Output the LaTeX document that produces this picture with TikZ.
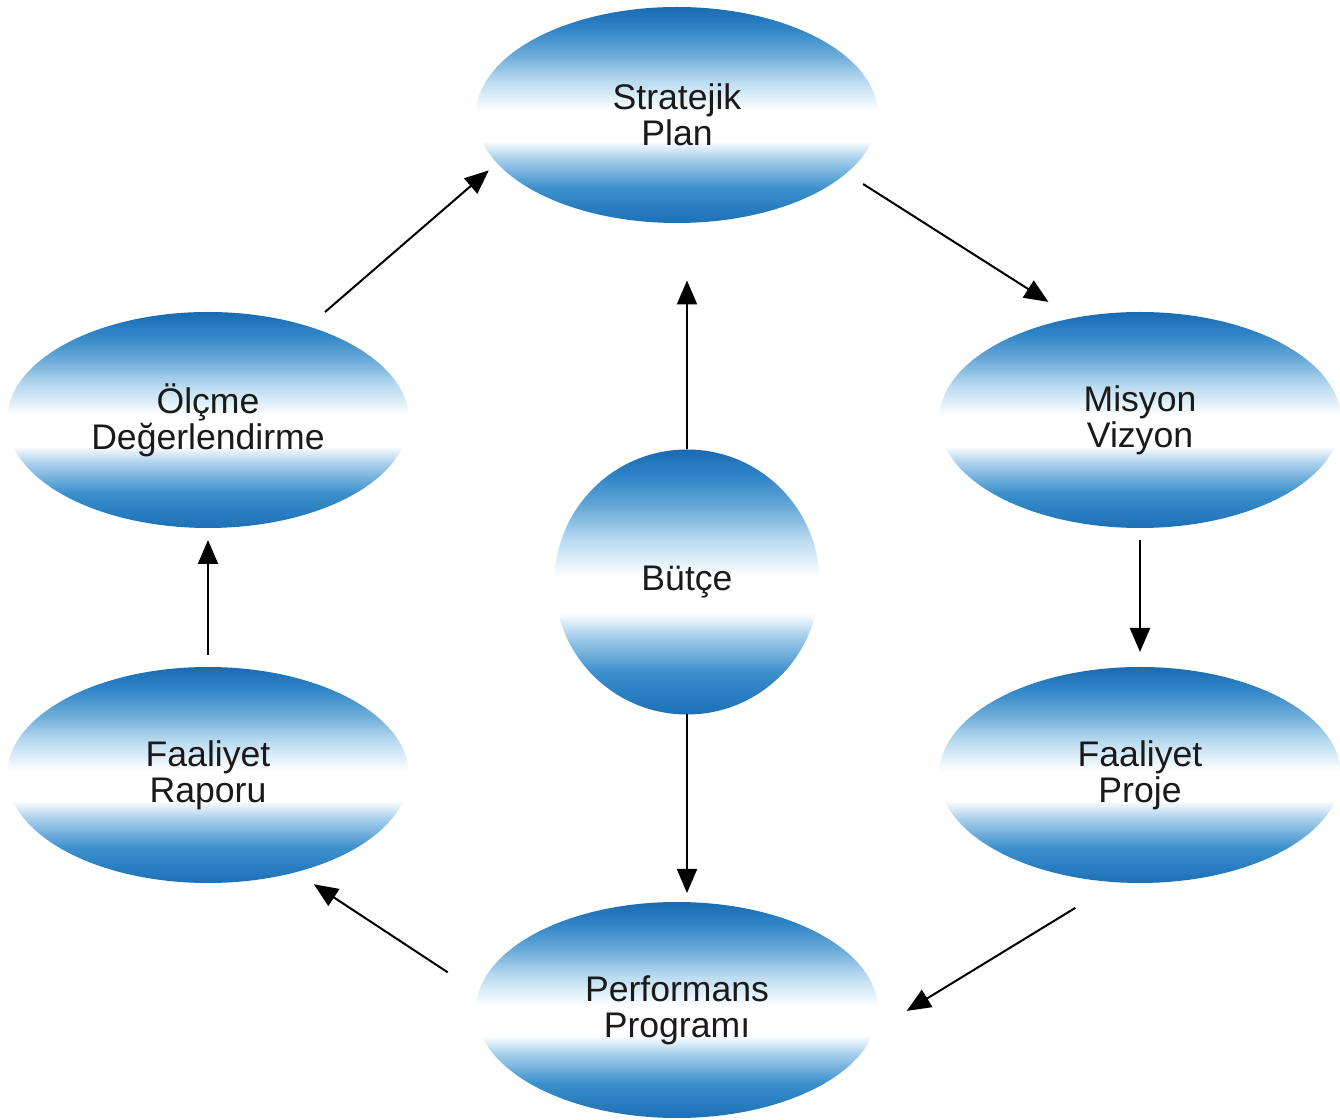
\documentclass[tikz,border=0pt]{standalone}
\usepackage{fontspec}
\setmainfont{Liberation Sans}
\usetikzlibrary{shapes.geometric,arrows.meta}
\definecolor{bTop}{HTML}{1A6BB2}
\definecolor{bBot}{HTML}{1C70B6}
\definecolor{bB}{HTML}{3A8FCC}
\definecolor{bC}{HTML}{A9D0EC}
\definecolor{bD}{HTML}{B8DAF0}
\definecolor{bE}{HTML}{6AAAD8}
\definecolor{bF}{HTML}{2F84C6}
\definecolor{txt}{HTML}{1A1A1A}
\pgfdeclareverticalshading{ballblue}{100bp}{color(0bp)=(bBot); color(25bp)=(bBot); color(33bp)=(bB); color(40bp)=(bC); color(44bp)=(white); color(51bp)=(white); color(58bp)=(bD); color(64bp)=(bE); color(70bp)=(bF); color(75bp)=(bTop); color(100bp)=(bTop)}
\tikzset{
  bubble/.style={shape=ellipse, shading=ballblue, inner sep=0pt, outer sep=0pt,
    minimum width=201pt, minimum height=108pt, align=center, text=txt,
    font=\fontsize{17.8}{18}\selectfont},
  roundbubble/.style={bubble, minimum width=132.5pt, minimum height=132.5pt},
  arr/.style={-{Triangle[length=12pt,width=10pt]}, line width=1pt, draw=black}
}
\begin{document}
\begin{tikzpicture}[x=0.5pt,y=0.5pt]
\useasboundingbox (0,0) rectangle (1340,1120);
\fill[white] (0,0) rectangle (1340,1120);
\node[bubble] (sp) at (677,1005) {Stratejik\\Plan};
\node[bubble] (mv) at (1140,700) {Misyon\\Vizyon};
\node[bubble] (fp) at (1140,345) {Faaliyet\\Proje};
\node[bubble] (pp) at (677,110) {Performans\\Programı};
\node[bubble] (fr) at (208,345) {Faaliyet\\Raporu};
\node[bubble] (od) at (208,700) {Ölçme\\Değerlendirme};
\node[roundbubble] (b) at (687,538) {Bütçe};
\draw[arr, shorten <=10pt, shorten >=15pt] (sp.-19.5) -- (mv.123);
\draw[arr, shorten <=6pt, shorten >=7.5pt] (mv.south) -- (fp.north);
\draw[arr, shorten <=24.5pt, shorten >=19pt] (fp.-102.3) -- (pp.-6.7);
\draw[arr, shorten <=18.5pt, shorten >=11pt] (pp.175.8) -- (fr.-48.8);
\draw[arr, shorten <=6pt, shorten >=6pt] (fr.north) -- (od.south);
\draw[arr, shorten <=11pt, shorten >=5.5pt] (od.43.6) -- (sp.-165.2);
\draw[arr, shorten >=28.75pt] (b.north) -- (sp.south -| b.north);
\draw[arr, shorten >=4.5pt] (b.south) -- (pp.north -| b.south);
\end{tikzpicture}
\end{document}
